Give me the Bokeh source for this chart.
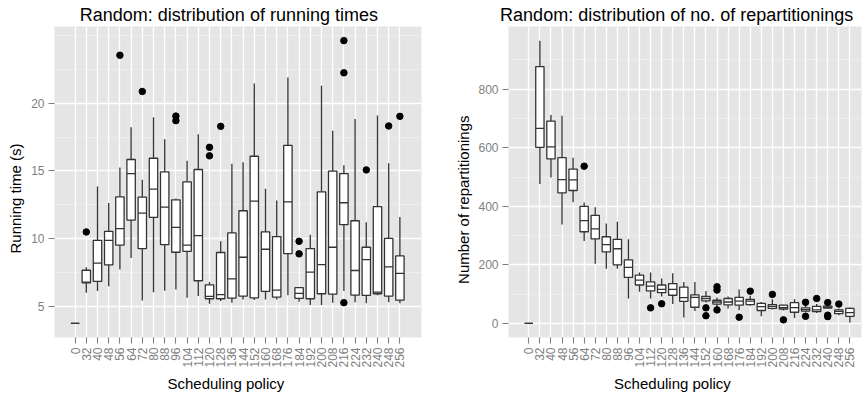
from math import pi
from bokeh.plotting import figure
from bokeh.models import FixedTicker, Range1d, Title
from bokeh.layouts import row
from bokeh.embed import file_html
from bokeh.resources import INLINE

# ---------------- data ----------------
categories = ["0", "32", "40", "48", "56", "64", "72", "80", "88", "96", "104", "112",
              "120", "128", "136", "144", "152", "160", "168", "176", "184", "192",
              "200", "208", "216", "224", "232", "240", "248", "256"]

# Running time (s): whisker low, Q1, median, Q3, whisker high
run_lo  = [3.72, 5.98, 6.11, 6.47, 7.70, 8.56, 5.42, 6.03, 6.13, 6.23, 5.61, 5.74, 5.17, 5.37, 5.25,
           5.49, 5.44, 5.49, 5.49, 5.79, 5.32, 5.07, 5.07, 5.25, 6.11, 5.29, 5.20, 5.79, 5.29, 5.20]
run_q1  = [3.72, 6.72, 6.82, 8.05, 9.50, 11.36, 9.25, 11.56, 9.55, 8.98, 9.05, 6.87, 5.54, 5.54, 5.59,
           5.74, 5.61, 6.08, 5.66, 8.88, 5.57, 5.54, 5.91, 5.88, 11.02, 5.81, 5.79, 5.91, 5.74, 5.44]
run_med = [3.72, 6.77, 8.17, 9.86, 10.72, 14.80, 11.88, 13.65, 12.32, 10.82, 9.50, 10.21, 5.71, 5.84, 7.01,
           8.61, 12.76, 9.20, 6.18, 12.71, 5.94, 7.51, 8.07, 9.35, 12.64, 7.63, 8.44, 6.03, 7.90, 7.41]
run_q3  = [3.72, 7.65, 9.86, 10.53, 13.08, 15.84, 13.06, 15.93, 14.93, 12.86, 14.19, 15.10, 6.57, 8.96, 10.41,
           12.05, 16.08, 10.48, 10.14, 16.89, 6.36, 9.25, 13.45, 14.98, 14.80, 11.31, 9.35, 12.35, 10.01, 8.71]
run_hi  = [3.72, 7.87, 13.85, 12.62, 15.25, 18.22, 14.34, 18.96, 17.33, 12.95, 15.74, 17.70, 6.77, 9.79, 15.52,
           15.64, 21.46, 13.67, 12.81, 21.90, 6.40, 10.28, 21.29, 17.97, 15.42, 18.83, 11.19, 19.10, 15.57, 11.58]
run_out_cat = ["32", "56", "72", "96", "96", "120", "120", "128", "184", "184",
               "216", "216", "216", "232", "248", "256"]
run_out_val = [10.48, 23.55, 20.87, 19.05, 18.71, 16.74, 16.11, 18.29, 9.79, 8.86,
               24.63, 22.25, 5.25, 15.07, 18.32, 19.03]

# Number of repartitionings: whisker low, Q1, median, Q3, whisker high
rep_lo  = [0, 476, 498, 338, 414, 281, 204, 187, 187, 85, 108, 85, 92, 66, 20,
           42, 71, 54, 51, 45, 60, 24, 47, 44, 18, 37, 35, 49, 28, 3]
rep_q1  = [0, 601, 562, 446, 454, 313, 289, 244, 200, 157, 131, 111, 105, 96, 75,
           55, 77, 66, 63, 62, 64, 44, 51, 49, 38, 42, 40, 52, 33, 24]
rep_med = [0, 666, 603, 491, 490, 351, 323, 269, 255, 191, 148, 127, 116, 116, 88,
           89, 85, 73, 73, 76, 76, 57, 58, 54, 54, 47, 46, 55, 41, 37]
rep_q3  = [0, 877, 691, 566, 527, 400, 369, 296, 287, 217, 165, 142, 131, 136, 124,
           97, 92, 79, 85, 89, 82, 68, 64, 62, 71, 53, 58, 59, 46, 51]
rep_hi  = [0, 966, 712, 709, 566, 413, 397, 341, 347, 287, 174, 174, 153, 171, 141,
           141, 111, 88, 92, 116, 94, 73, 82, 64, 82, 62, 66, 62, 51, 54]
rep_out_cat = ["64", "112", "120", "152", "152", "160", "160", "160", "176", "184",
               "200", "208", "224", "224", "232", "240", "240", "240", "248"]
rep_out_val = [537, 53, 67, 53, 26, 125, 114, 46, 21, 110,
               99, 12, 72, 24, 85, 71, 28, 23, 66]

# ---------------- styling ----------------
FONT = "Liberation Sans"
BOX_LINE = "#333333"
GREY50 = "#7F7F7F"
LW = 1.3


def make_panel(title, ylabel, lo, q1, med, q3, hi, out_cat, out_val,
               yticks, yminor, bl, br, x_start, x_end,
               title_off, xlab_off, ylab_off, ylab_standoff):
    pos = {c: i for i, c in enumerate(categories)}
    xs = [pos[c] for c in categories]
    span = max(max(hi), max(out_val)) - min(min(lo), min(out_val))
    y0 = min(min(lo), min(out_val)) - 0.05 * span
    y1 = max(max(hi), max(out_val)) + 0.05 * span

    p = figure(width=432, height=394, output_backend="svg", toolbar_location=None,
               x_range=Range1d(x_start, x_end), y_range=Range1d(y0, y1),
               min_border_left=bl, min_border_right=br, min_border_top=26, min_border_bottom=56)
    p.background_fill_color = "#E5E5E5"
    p.border_fill_color = "white"
    p.outline_line_color = None

    # title
    p.title.text = title
    p.title.align = "left"
    p.title.offset = title_off
    p.title.standoff = 3
    p.title.text_font = FONT
    p.title.text_font_size = "18px"
    p.title.text_font_style = "normal"
    p.title.text_color = "black"

    # axes
    p.xaxis.ticker = FixedTicker(ticks=xs)
    p.xaxis.major_label_overrides = {i: c for i, c in enumerate(categories)}
    p.xaxis.major_label_orientation = pi / 2
    p.yaxis.ticker = FixedTicker(ticks=yticks, minor_ticks=yminor)
    for ax in (p.xaxis[0], p.yaxis[0]):
        ax.axis_line_color = None
        ax.major_tick_line_color = GREY50
        ax.major_tick_line_width = 1.1
        ax.major_tick_in = 0
        ax.major_tick_out = 6
        ax.minor_tick_line_color = None
        ax.major_label_text_color = GREY50
        ax.major_label_text_font = FONT
        ax.major_label_text_font_size = "12px"
        ax.major_label_standoff = 4

    # axis titles
    p.add_layout(Title(text="Scheduling policy", align="left", offset=xlab_off,
                       standoff=5, vertical_align="bottom", text_font=FONT,
                       text_font_size="15px", text_font_style="normal",
                       text_color="black"), "below")
    p.add_layout(Title(text=ylabel, align="left", offset=ylab_off,
                       standoff=ylab_standoff, vertical_align="bottom", text_font=FONT,
                       text_font_size="15px", text_font_style="normal",
                       text_color="black"), "left")

    # grid
    p.xgrid.grid_line_color = "white"
    p.xgrid.grid_line_width = LW
    p.ygrid.grid_line_color = "white"
    p.ygrid.grid_line_width = LW
    p.ygrid.minor_grid_line_color = "#F2F2F2"
    p.ygrid.minor_grid_line_width = 0.7

    # boxplots
    p.segment(x0=xs, y0=q3, x1=xs, y1=hi, line_color=BOX_LINE, line_width=LW)
    p.segment(x0=xs, y0=q1, x1=xs, y1=lo, line_color=BOX_LINE, line_width=LW)
    p.vbar(x=xs, width=0.75, bottom=q1, top=q3, fill_color="white",
           line_color=BOX_LINE, line_width=LW)
    p.segment(x0=[x - 0.375 for x in xs], y0=med, x1=[x + 0.375 for x in xs], y1=med,
              line_color=BOX_LINE, line_width=LW)
    p.scatter(x=[pos[c] for c in out_cat], y=out_val, size=6.5,
              fill_color="black", line_color="black")
    return p


p1 = make_panel("Random: distribution of running times", "Running time (s)",
                run_lo, run_q1, run_med, run_q3, run_hi, run_out_cat, run_out_val,
                [5, 10, 15, 20], [7.5, 12.5, 17.5, 22.5, 25],
                52, 11, -1.84, 30.93, 25.3, 113, 84, 9)
p2 = make_panel("Random: distribution of no. of repartitionings", "Number of repartitionings",
                rep_lo, rep_q1, rep_med, rep_q3, rep_hi, rep_out_cat, rep_out_val,
                [0, 200, 400, 600, 800], [100, 300, 500, 700, 900],
                76, 3, -1.834, 30.05, -8.4, 105.6, 53.6, 8)

layout = row(p1, p2)
open("out.html", "w").write(file_html(layout, INLINE))
